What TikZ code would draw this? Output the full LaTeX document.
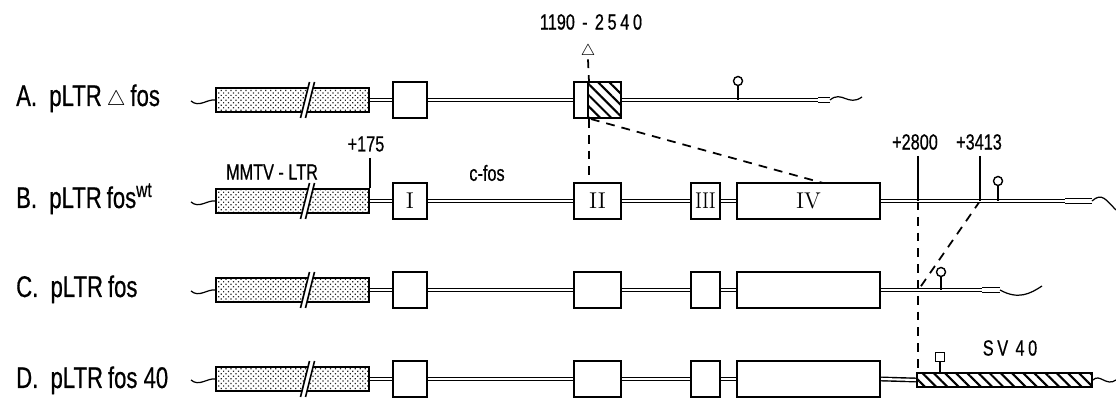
\documentclass[tikz,border=0pt]{standalone}
\usepackage{fontspec}
\usepackage{tikz}
\usetikzlibrary{positioning,calc,patterns,patterns.meta,backgrounds}
\newfontfamily\labfont{Liberation Sans}[FakeStretch=0.74,FakeBold=0.6]

\begin{document}
\begin{tikzpicture}[x=0.02cm,y=-0.02cm,every node/.style={font=\labfont\fontsize{12.5}{14}\selectfont}]
    \tikzstyle{ltr}=[draw,line width=1pt,minimum width=3.06cm,minimum height=.48cm,inner sep=0pt,
                   pattern={Dots[radius=.5pt,distance=2pt,angle=45]},pattern color=black!85];
    \tikzstyle{exon}=[draw,line width=1.1pt,fill=white,minimum height=.72cm,inner sep=0pt,
                   font=\rmfamily\fontsize{13}{13}\selectfont];
    \tikzstyle{hatchbox}=[draw,line width=1.1pt,inner sep=0pt,
                   pattern={Lines[angle=-45,distance=4.5pt,line width=1.2pt]}];
    \tikzstyle{dna}=[double,line width=.8pt,double distance=1.2pt];
    \tikzstyle{dnathin}=[double,line width=.6pt,double distance=.6pt];
    \tikzstyle{dnaend}=[double,line width=.7pt,double distance=1.8pt];
    \tikzstyle{wave}=[line width=.7pt];
    \tikzstyle{link}=[line width=1pt,dash pattern=on 5pt off 4pt];
    \tikzstyle{tick}=[line width=.9pt];
    \tikzstyle{pop}=[draw,circle,line width=.8pt,fill=white,minimum size=.18cm,inner sep=0pt];
    \tikzstyle{rowlab}=[anchor=base west,font=\labfont\fontsize{17}{20}\selectfont];
    \useasboundingbox (0,0) rectangle (1116,401);

    % row labels
    \node[rowlab] (labA) at (10,106) {A.\ \ pLTR\,${\scriptstyle\triangle}$\,fos};
    \node[rowlab] (labB) at (10,208) {B.\ \ pLTR\,fos\textsuperscript{wt}};
    \node[rowlab] (labC) at (10,297) {C.\ \ pLTR\,fos};
    \node[rowlab] (labD) at (10,388) {D.\ \ pLTR\,fos 40};

    % A. deletion construct
    \node[ltr]  (ltrA) at (292.5,100) {};
    \node[exon,minimum width=.68cm] (exIA) at (410,100) {};
    \node[exon,minimum width=.28cm] (delA) at (581,100) {};
    \node[hatchbox,minimum width=.66cm,minimum height=.72cm] (hatA) at (604.5,100) {};
    \node (gap) at (591,22) {1190\,\,-\,\,2\,5\,4\,0};
    \node[inner sep=0pt,font=\fontsize{9}{9}\selectfont] (tri) at (588,52) {$\triangle$};
    \node[pop] (popA) at (738,81) {};
    \coordinate (wsA) at (191,101);
    \coordinate (thA) at (655,100);
    \coordinate (stA) at (738,100);
    \coordinate (enA) at (818,100);
    \coordinate (tlA) at (830,100);
    \coordinate (weA) at (862,97);

    % B. wild type
    \node[ltr]  (ltrB) at (292.5,201) {};
    \node[exon,minimum width=.68cm] (exIB)   at (410,201)   {I};
    \node[exon,minimum width=.94cm] (exIIB)  at (597.5,201) {II};
    \node[exon,minimum width=.58cm] (exIIIB) at (705.5,201) {\scalebox{.8}[1]{III}};
    \node[exon,minimum width=2.86cm](exIVB)  at (808.5,201) {IV};
    \node (mmtv) at (272,172) {MMTV - LTR};
    \node (cfos) at (487,173) {c-fos};
    \node (t175)  at (366,144) {+175};
    \node (t2800) at (915,142) {+2800};
    \node (t3413) at (979,142) {+3413};
    \node[pop] (popB) at (998,181) {};
    \coordinate (wsB) at (191,202);
    \coordinate (d2540) at (823,183);
    \coordinate (thB) at (900,201);
    \coordinate (c2800) at (918,201);
    \coordinate (c3413) at (980,201);
    \coordinate (stB) at (998,201);
    \coordinate (enB) at (1065,201);
    \coordinate (tlB) at (1092,201);
    \coordinate (weB) at (1116,210);

    % C. fos
    \node[ltr]  (ltrC) at (292.5,290) {};
    \node[exon,minimum width=.68cm] (exIC)   at (410,290)   {};
    \node[exon,minimum width=.94cm] (exIIC)  at (597.5,290) {};
    \node[exon,minimum width=.58cm] (exIIIC) at (705.5,290) {};
    \node[exon,minimum width=2.86cm](exIVC)  at (808.5,290) {};
    \node[pop] (popC) at (941,272) {};
    \coordinate (wsC) at (191,291);
    \coordinate (thC) at (900,290);
    \coordinate (cutC) at (919,289);
    \coordinate (stC) at (941,290);
    \coordinate (enC) at (982,290);
    \coordinate (tlC) at (1000,290);
    \coordinate (weC) at (1042,286);

    % D. fos 40
    \node[ltr]  (ltrD) at (292.5,379) {};
    \node[exon,minimum width=.68cm] (exID)   at (410,379)   {};
    \node[exon,minimum width=.94cm] (exIID)  at (597.5,379) {};
    \node[exon,minimum width=.58cm] (exIIID) at (705.5,379) {};
    \node[exon,minimum width=2.86cm](exIVD)  at (808.5,379) {};
    \node[hatchbox,minimum width=3.5cm,minimum height=.28cm] (svD) at (1004.5,380) {};
    \node[draw,line width=.8pt,fill=white,minimum size=.17cm,inner sep=0pt] (sqD) at (940,357) {};
    \node (sv40) at (1010,348) {S\,V\,\,4\,0};
    \coordinate (wsD) at (191,380);
    \coordinate (weD) at (1116,380);

    % breaks in the LTR
    \foreach \r in {A,B,C,D}{
      \fill[white] ($(ltr\r.center)+(8,18)$) -- ($(ltr\r.center)+(17,-18)$) -- ($(ltr\r.center)+(22,-18)$) -- ($(ltr\r.center)+(13,18)$) -- cycle;
      \draw[line width=.9pt] ($(ltr\r.center)+(8,18)$) -- ($(ltr\r.center)+(17,-18)$);
      \draw[line width=.9pt] ($(ltr\r.center)+(13,18)$) -- ($(ltr\r.center)+(22,-18)$);
    }

    \begin{scope}[on background layer]
    % dashed links between the constructs
    \draw[link] (tri.south) -- (delA.north east);
    \draw[link] (delA.south east) -- (delA.south east |- exIIB.north);
    \draw[link] ($(hatA.south west)+(4,0)$) -- (d2540);
    \draw[link] (c2800) -- (c2800 |- svD.north);
    \draw[link] (c3413) -- (cutC);

    % backbones
    \draw[dna] (ltrA.east) -- (exIA.west);
    \draw[dna] (exIA.east) -- (delA.west);
    \draw[dna] (hatA.east) -- (thA);
    \draw[dnathin] (thA) -- (enA);
    \draw[dnaend] (enA) -- (tlA);

    \draw[dna] (ltrB.east) -- (exIB.west);
    \draw[dna] (exIB.east) -- (exIIB.west);
    \draw[dna] (exIIB.east) -- (exIIIB.west);
    \draw[dna] (exIIIB.east) -- (exIVB.west);
    \draw[dna] (exIVB.east) -- (thB);
    \draw[dnathin] (thB) -- (enB);
    \draw[dnaend] (enB) -- (tlB);

    \draw[dna] (ltrC.east) -- (exIC.west);
    \draw[dna] (exIC.east) -- (exIIC.west);
    \draw[dna] (exIIC.east) -- (exIIIC.west);
    \draw[dna] (exIIIC.east) -- (exIVC.west);
    \draw[dna] (exIVC.east) -- (thC);
    \draw[dnathin] (thC) -- (enC);
    \draw[dnaend] (enC) -- (tlC);

    \draw[dna] (ltrD.east) -- (exID.west);
    \draw[dna] (exID.east) -- (exIID.west);
    \draw[dna] (exIID.east) -- (exIIID.west);
    \draw[dna] (exIIID.east) -- (exIVD.west);
    \draw[dna] (exIVD.east) -- (svD.west);
    \end{scope}

    % flanking sequences
    \draw[wave] (wsA) .. controls (199,108) and (207,99) .. (ltrA.west);
    \draw[wave] (wsB) .. controls (199,209) and (207,200) .. (ltrB.west);
    \draw[wave] (wsC) .. controls (199,298) and (207,289) .. (ltrC.west);
    \draw[wave] (wsD) .. controls (199,387) and (207,378) .. (ltrD.west);
    \draw[wave] (tlA) .. controls (842,90) and (848,107) .. (weA);
    \draw[wave] (tlB) .. controls (1102,192) and (1106,200) .. (weB);
    \draw[wave] (tlC) .. controls (1018,300) and (1030,294) .. (weC);
    \draw[wave] (svD.east) .. controls (1100,373) and (1106,387) .. (weD);

    % markers
    \draw[tick] (t175.south -| ltrB.east) -- (ltrB.north east);
    \draw[tick] (t2800.south -| c2800) -- (c2800);
    \draw[tick] (t3413.south -| c3413) -- (c3413);
    \draw[tick] (popA) -- (stA);
    \draw[tick] (popB) -- (stB);
    \draw[tick] (popC) -- (stC);
    \draw[tick] (sqD) -- (sqD |- svD.north);
  \end{tikzpicture}
\end{document}
